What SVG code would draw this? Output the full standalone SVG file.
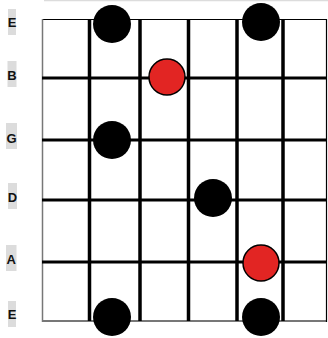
<svg xmlns="http://www.w3.org/2000/svg" width="328" height="338" viewBox="0 0 328 338">
<style>
.lbl{fill:#dcdcdc}
.t{font-family:"Liberation Sans",Arial,sans-serif;font-size:13px;font-weight:bold;fill:#111;text-anchor:middle}
.fret{stroke:#000;stroke-width:3.5}
.str{stroke:#000;stroke-width:3}
.blk{fill:#000}
.red{fill:#e22523;stroke:#000;stroke-width:1.5}
</style>
<rect width="328" height="338" fill="#fff"/>
<line x1="44" y1="0.5" x2="328" y2="0.5" stroke="#dcdcdc" stroke-width="1.5"/>
<g id="labels">
<g id="label-E-high"><rect class="lbl" x="8" y="9" width="8" height="26"/><text class="t" x="12" y="27">E</text></g>
<g id="label-B"><rect class="lbl" x="7.5" y="61" width="9" height="26"/><text class="t" x="12" y="80">B</text></g>
<g id="label-G"><rect class="lbl" x="6" y="123" width="11" height="26"/><text class="t" x="11.5" y="143">G</text></g>
<g id="label-D"><rect class="lbl" x="8" y="183" width="9" height="26"/><text class="t" x="12.5" y="202">D</text></g>
<g id="label-A"><rect class="lbl" x="6" y="245" width="10.5" height="26"/><text class="t" x="11.3" y="264">A</text></g>
<g id="label-E-low"><rect class="lbl" x="8" y="301" width="8" height="26"/><text class="t" x="12" y="319">E</text></g>
</g>
<g id="grid">
<line x1="42" y1="19.5" x2="327" y2="19.5" stroke="#000" stroke-width="1.2"/>
<line x1="42" y1="321" x2="327" y2="321" stroke="#777" stroke-width="2"/>
<line x1="42.5" y1="19" x2="42.5" y2="322" stroke="#777" stroke-width="1.5"/>
<line x1="326.5" y1="19" x2="326.5" y2="322" stroke="#000" stroke-width="1.2"/>
<line class="str" x1="42" y1="78" x2="326" y2="78"/>
<line class="str" x1="42" y1="140" x2="327" y2="140"/>
<line class="str" x1="42" y1="200" x2="327" y2="200"/>
<line class="str" x1="42" y1="262" x2="327" y2="262"/>
<line class="fret" x1="89.5" y1="19" x2="89.5" y2="321"/>
<line class="fret" x1="140" y1="19" x2="140" y2="321"/>
<line class="fret" x1="188.5" y1="19" x2="188.5" y2="321"/>
<line class="fret" x1="237" y1="19" x2="237" y2="321"/>
<line class="fret" x1="283" y1="19" x2="283" y2="321"/>
</g>
<g id="dots">
<circle id="d1" class="blk" cx="112" cy="24" r="19"/>
<circle id="d2" class="blk" cx="261" cy="22" r="19"/>
<circle id="d3" class="red" cx="167" cy="77" r="18"/>
<circle id="d4" class="blk" cx="112" cy="140" r="19"/>
<circle id="d5" class="blk" cx="213" cy="198" r="19"/>
<circle id="d6" class="red" cx="261" cy="263" r="18"/>
<circle id="d7" class="blk" cx="112" cy="317" r="19"/>
<circle id="d8" class="blk" cx="261" cy="317" r="19"/>
</g>
</svg>
